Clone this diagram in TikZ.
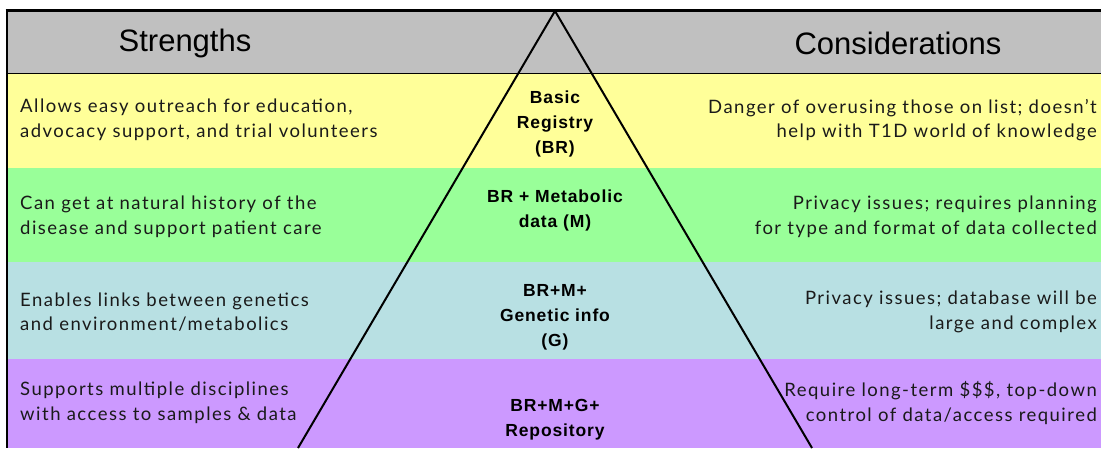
\documentclass[tikz,border=0pt]{standalone}
\usepackage{fontspec}
\setmainfont{Lato}
\newfontfamily\headfont{Liberation Sans}
\newfontfamily\centfont[LetterSpace=5]{Liberation Sans Bold}
\newfontfamily\bodyfont[LetterSpace=8]{Lato}
\definecolor{hdr}{HTML}{C0C0C0}
\definecolor{yel}{HTML}{FFFF99}
\definecolor{grn}{HTML}{99FF99}
\definecolor{blu}{HTML}{B8E0E3}
\definecolor{pur}{HTML}{CC99FF}
\definecolor{txt}{HTML}{1A1A1A}
\tikzset{
  headtxt/.style={inner sep=0pt, font=\headfont\fontsize{31}{34}\selectfont, text=black},
  lefttxt/.style={anchor=west, align=left, inner sep=0pt, text=txt, font=\bodyfont\fontsize{18.5}{24.5}\selectfont},
  righttxt/.style={anchor=east, align=right, inner sep=0pt, text=txt, font=\bodyfont\fontsize{18.5}{24.5}\selectfont},
  centtxt/.style={align=center, inner sep=0pt, text=black, font=\centfont\fontsize{17.5}{25}\selectfont},
  tri/.style={line width=2pt, black}
}
\begin{document}
\begin{tikzpicture}[x=1pt,y=-1pt]
\useasboundingbox (0,0) rectangle (1101,448);
% bands
\fill[hdr] (7,10) rectangle (1101,73);
\fill[yel] (7,73) rectangle (1101,168);
\fill[grn] (7,168) rectangle (1101,262);
\fill[blu] (7,262) rectangle (1101,359);
\fill[pur] (7,359) rectangle (1101,448);
\draw[line width=1pt] (7,73) -- (1101,73);
\draw[line width=3pt] (5.5,10) -- (1101,10);
\draw[line width=2pt] (7,10) -- (7,448);
% triangle
\coordinate (apex) at (555,11);
\coordinate (bl) at (298,448);
\coordinate (br) at (812,448);
\draw[tri] (bl) -- (apex) -- (br);
% headers
\node[headtxt] (h1) at (185,43) {Strengths};
\node[headtxt] (h2) at (898,43) {Considerations};
% left texts
\node[lefttxt] (l1) at (20,120) {Allows easy outreach for education,\\advocacy support, and trial volunteers};
\node[lefttxt] (l2) at (20,217) {Can get at natural history of the\\disease and support patient care};
\node[lefttxt] (l3) at (20,312) {Enables links between genetics\\and environment/metabolics};
\node[lefttxt] (l4) at (20,403) {Supports multiple disciplines\\with access to samples \& data};
% right texts
\node[righttxt] (r1) at (1097,120) {Danger of overusing those on list; doesn’t\\help with T1D world of knowledge};
\node[righttxt] (r2) at (1097,217) {Privacy issues; requires planning\\for type and format of data collected};
\node[righttxt] (r3) at (1097,312) {Privacy issues; database will be\\large and complex};
\node[righttxt] (r4) at (1097,403) {Require long-term \$\$\$, top-down\\control of data/access required};
% centre
\node[centtxt] (c1) at (555,124) {Basic\\Registry\\(BR)};
\node[centtxt] (c2) at (555,210) {BR + Metabolic\\data (M)};
\node[centtxt] (c3) at (555,317) {BR+M+\\Genetic info\\(G)};
\node[centtxt] (c4) at (555,420) {BR+M+G+\\Repository};
\end{tikzpicture}
\end{document}
